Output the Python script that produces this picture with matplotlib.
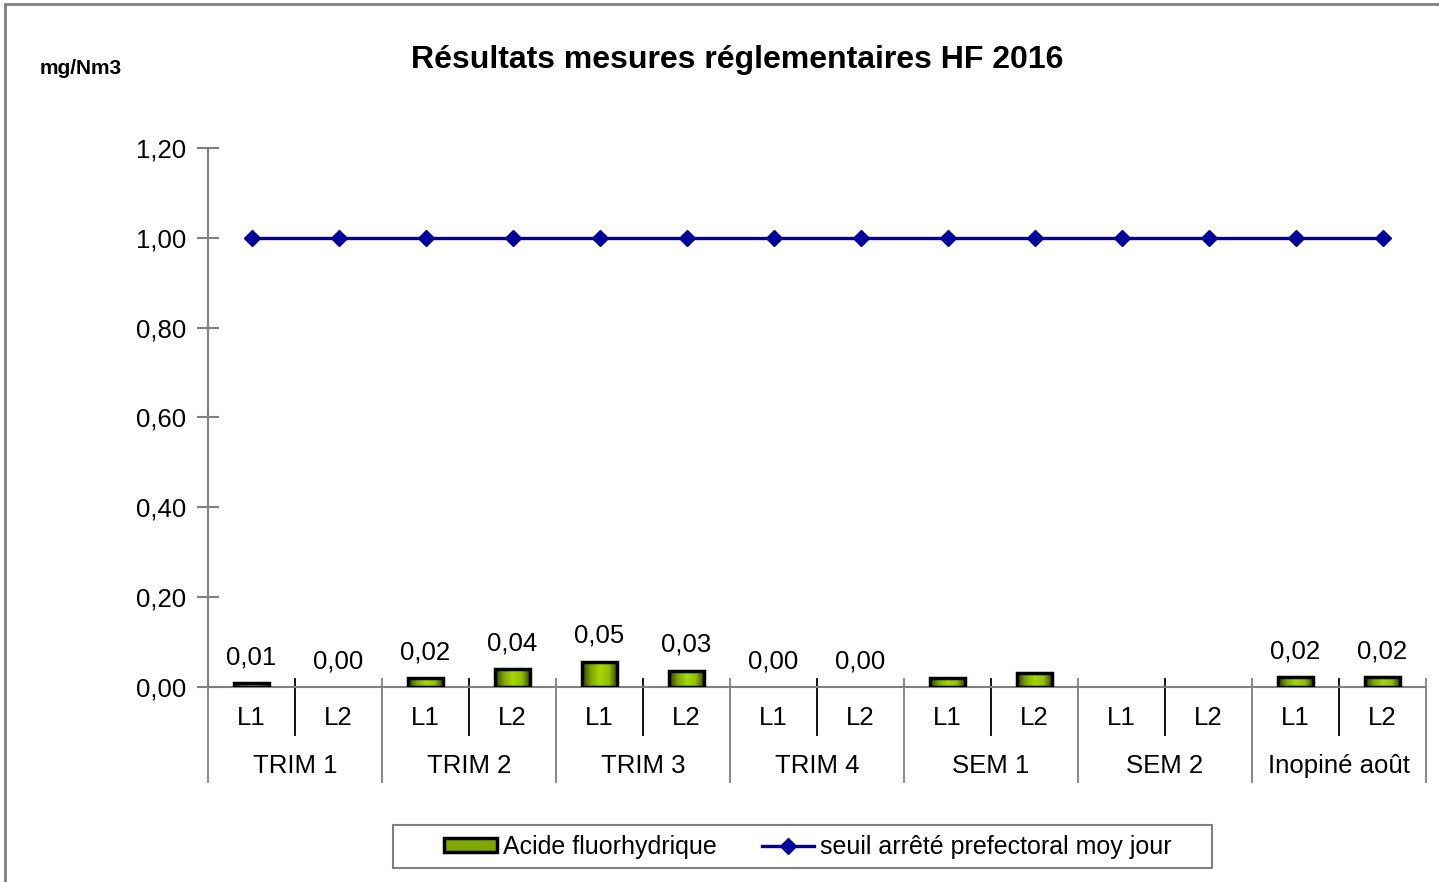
import matplotlib
matplotlib.use('Agg')
import matplotlib.pyplot as plt
import matplotlib.transforms as mtransforms
from matplotlib.colors import LinearSegmentedColormap
from matplotlib.patches import Rectangle, Patch
from matplotlib.lines import Line2D
import numpy as np

plt.rcParams['font.family'] = ['Liberation Sans', 'DejaVu Sans']

groups = ['TRIM 1', 'TRIM 2', 'TRIM 3', 'TRIM 4', 'SEM 1', 'SEM 2', 'Inopiné août']
lines = ['L1', 'L2']
hf_values = [0.009, 0.0, 0.019, 0.04, 0.056, 0.036, 0.0, 0.0,
             0.02, 0.031, np.nan, np.nan, 0.022, 0.022]
hf_labels = ['0,01', '0,00', '0,02', '0,04', '0,05', '0,03', '0,00', '0,00',
             '', '', '', '', '0,02', '0,02']
seuil = [1.0] * 14
y_ticks = [0.0, 0.2, 0.4, 0.6, 0.8, 1.0, 1.2]

grey = '#808080'
fig = plt.figure(figsize=(14.39, 8.82), dpi=100)
ax = fig.add_axes([208 / 1439, 1 - 687 / 882, 1218 / 1439, 539 / 882])

n = len(hf_values)
x = np.arange(n)

# bars with cylinder-like shading
cmap = LinearSegmentedColormap.from_list('cyl', ['#2e3a00', '#7fa800', '#a6d800', '#8fbf00', '#2e3a00'])
grad = np.linspace(0, 1, 256).reshape(1, -1)
bars = ax.bar(x, np.nan_to_num(hf_values), width=0.41, facecolor='none',
              edgecolor='black', linewidth=2.5, zorder=3)
for b, v in zip(bars, hf_values):
    if np.isnan(v) or v <= 0:
        b.set_visible(False)
        continue
    im = ax.imshow(grad, extent=[b.get_x(), b.get_x() + b.get_width(), 0, b.get_height()],
                   aspect='auto', cmap=cmap, zorder=2)
    im.set_clip_path(b)
ax.set_xlim(-0.5, n - 0.5)
ax.set_ylim(0, 1.2)

for xi, v, lab in zip(x, hf_values, hf_labels):
    if lab:
        ax.annotate(lab, (xi, 0 if np.isnan(v) else v), xytext=(0, 10), textcoords='offset points',
                    ha='center', va='bottom', fontsize=18.5, color='black')

ax.plot(x, seuil, color='#00009c', linewidth=2.4, marker='D', markersize=8, zorder=4, clip_on=False)

# axes styling
for s in ['top', 'right']:
    ax.spines[s].set_visible(False)
ax.spines['left'].set_color(grey)
ax.spines['bottom'].set_color(grey)
ax.spines['left'].set_linewidth(1.5)
ax.spines['bottom'].set_linewidth(1.5)
ax.set_yticks(y_ticks)
ax.set_yticklabels([f'{t:.2f}'.replace('.', ',') for t in y_ticks], fontsize=18.5)
ax.tick_params(axis='y', direction='inout', length=16, width=1.5, color=grey, pad=7.5)
ax.set_xticks([])

# category axis (two levels)
tr = mtransforms.blended_transform_factory(ax.transData, ax.transAxes)
for k in range(n + 1):
    xb = k - 0.5
    low = -0.176 if k % 2 == 0 else -0.089
    ax.plot([xb, xb], [0.015, low], color='black' if k % 2 else grey,
            linewidth=1.3, transform=tr, clip_on=False)
for xi in x:
    ax.text(xi, -0.057, lines[xi % 2], transform=tr, ha='center', va='center', fontsize=18.5)
for gi, g in enumerate(groups):
    ax.text(2 * gi + 0.5, -0.147, g, transform=tr, ha='center', va='center', fontsize=18.5)

fig.text(737 / 1439, 1 - 60 / 882, 'Résultats mesures réglementaires HF 2016',
         ha='center', va='center', fontsize=23, fontweight='bold')
fig.text(40 / 1439, 1 - 69 / 882, 'mg/Nm3', ha='left', va='center', fontsize=15, fontweight='bold')

# outer chart border
fig.add_artist(Rectangle((5 / 1439, -0.1), 1.2, 1 - 4 / 882 + 0.1, transform=fig.transFigure,
                         fill=False, edgecolor=grey, linewidth=2))

# legend with its own frame
fig.add_artist(Rectangle((393 / 1439, 1 - 868 / 882), 819 / 1439, 43 / 882, transform=fig.transFigure,
                         fill=True, facecolor='white', edgecolor=grey, linewidth=1.5))
handles = [Patch(facecolor='#7fa800', edgecolor='black', linewidth=2.5),
           Line2D([], [], color='#00009c', linewidth=2.4, marker='D', markersize=8)]
leg = fig.legend(handles, ['Acide fluorhydrique', 'seuil arrêté prefectoral moy jour'],
                 loc='center', bbox_to_anchor=(808 / 1439, 1 - 847 / 882), ncol=2,
                 fontsize=18, frameon=False, borderpad=0.2,
                 handlelength=2.1, handleheight=0.5, handletextpad=0.25, columnspacing=1.8)
leg.set_zorder(5)

fig.savefig('out.png', dpi=100)
